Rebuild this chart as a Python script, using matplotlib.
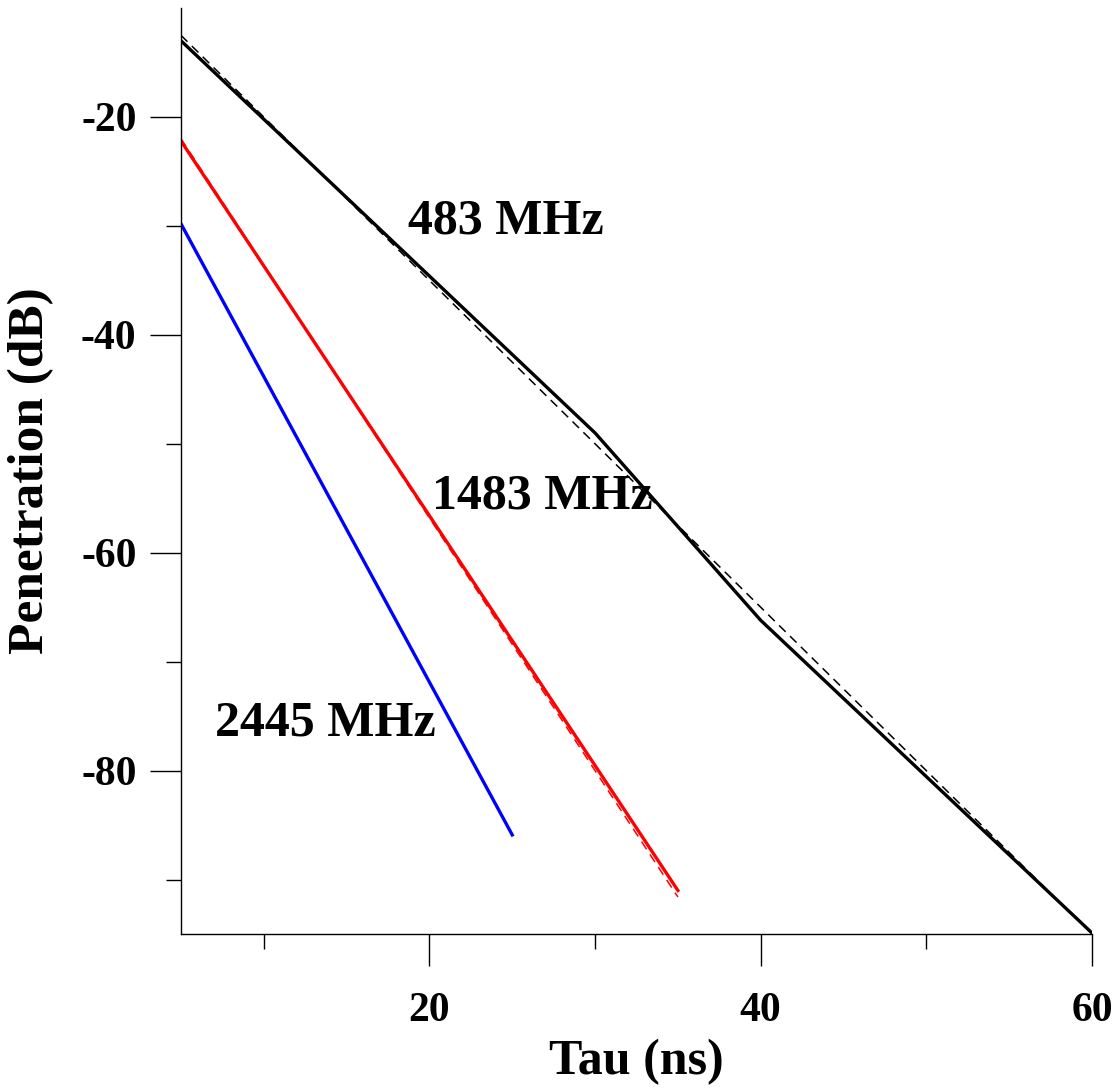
import matplotlib
matplotlib.use("Agg")
import matplotlib.pyplot as plt

# Data
tau_483 = [5, 30, 40, 60]
pen_483 = [-13.0, -49.0, -66.2, -94.9]
tau_483_fit = [5, 60]
pen_483_fit = [-12.5, -95.0]

tau_1483 = [5, 35]
pen_1483 = [-22.2, -91.0]
tau_1483_fit = [5, 35]
pen_1483_fit = [-22.0, -91.6]

tau_2445 = [5, 25]
pen_2445 = [-29.8, -85.9]

labels = ["483 MHz", "1483 MHz", "2445 MHz"]
label_pos = [(18.7, -29.6), (20.15, -54.85), (7.05, -75.7)]

xmajor = [20, 40, 60]
xminor = [10, 30, 50]
ymajor = [-20, -40, -60, -80]
yminor = [-30, -50, -70, -90]

plt.rcParams['font.family'] = ['Liberation Serif', 'DejaVu Serif']
plt.rcParams['font.weight'] = 'bold'

fig = plt.figure(figsize=(11.17, 10.88), dpi=100)
ax = fig.add_axes([0.162, 0.1415, 0.9776 - 0.162, 0.9926 - 0.1415])

ax.plot(tau_483_fit, pen_483_fit, color='black', lw=1.1, ls=(0, (6, 4)))
ax.plot(tau_483, pen_483, color='black', lw=2.4)
ax.plot(tau_1483_fit, pen_1483_fit, color='red', lw=1.1, ls=(0, (6, 4)))
ax.plot(tau_1483, pen_1483, color='red', lw=2.4)
ax.plot(tau_2445, pen_2445, color='blue', lw=2.4)

for lab, (x, y) in zip(labels, label_pos):
    ax.text(x, y, lab, fontsize=36, fontweight='bold', ha='left', va='center')

ax.set_xlim(5, 60)
ax.set_ylim(-95, -10)
ax.set_xticks(xmajor)
ax.set_xticks(xminor, minor=True)
ax.set_yticks(ymajor)
ax.set_yticks(yminor, minor=True)
ax.set_yticklabels([str(v) for v in ymajor])

for s in ['top', 'right']:
    ax.spines[s].set_visible(False)
for s in ['left', 'bottom']:
    ax.spines[s].set_linewidth(1.0)

ax.tick_params(which='major', direction='out', length=22, width=1.0, labelsize=30, pad=10)
ax.tick_params(axis='x', which='major', length=23, pad=19)
ax.tick_params(which='minor', direction='out', length=11, width=1.0)
for t in ax.get_xticklabels() + ax.get_yticklabels():
    t.set_fontweight('bold')

ax.set_xlabel('Tau (ns)', fontsize=36, fontweight='bold', labelpad=6)
ax.set_ylabel('Penetration (dB)', fontsize=37, fontweight='bold', labelpad=19)

fig.savefig('out.png', dpi=100)
